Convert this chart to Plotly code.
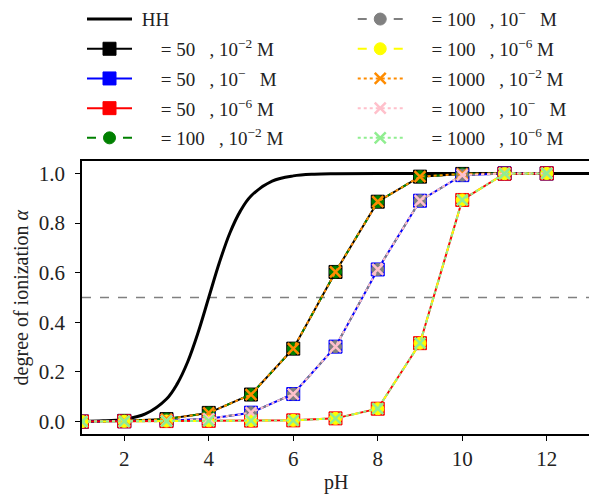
import plotly.graph_objects as go

ph = [1, 2, 3, 4, 5, 6, 7, 8, 9, 10, 11, 12]

# 10^-2 M series
a_n50_m2 = [0.0, 0.003, 0.010, 0.035, 0.109, 0.294, 0.603, 0.886, 0.987, 0.998, 1.0, 1.0]
a_n100_m2 = [0.0, 0.003, 0.010, 0.035, 0.109, 0.294, 0.603, 0.886, 0.987, 0.998, 1.0, 1.0]
a_n1000_m2 = [0.0, 0.003, 0.010, 0.035, 0.109, 0.294, 0.603, 0.886, 0.987, 0.998, 1.0, 1.0]
# 10^- M series
a_n50_m4 = [0.0, 0.001, 0.003, 0.011, 0.036, 0.111, 0.302, 0.613, 0.890, 0.993, 1.0, 1.0]
a_n100_m4 = [0.0, 0.001, 0.003, 0.011, 0.036, 0.111, 0.302, 0.613, 0.890, 0.993, 1.0, 1.0]
a_n1000_m4 = [0.0, 0.001, 0.003, 0.011, 0.036, 0.111, 0.302, 0.613, 0.890, 0.993, 1.0, 1.0]
# 10^-6 M series
a_n50_m6 = [0.0, 0.001, 0.002, 0.003, 0.004, 0.005, 0.013, 0.052, 0.316, 0.893, 0.999, 1.0]
a_n100_m6 = [0.0, 0.001, 0.002, 0.003, 0.004, 0.005, 0.013, 0.052, 0.316, 0.893, 0.999, 1.0]
a_n1000_m6 = [0.0, 0.001, 0.002, 0.003, 0.004, 0.005, 0.013, 0.052, 0.316, 0.893, 0.999, 1.0]

# Henderson-Hasselbalch curve
hh_ph = [1, 1.5, 2, 2.5, 3, 3.25, 3.5, 3.75, 4, 4.25, 4.5, 4.75, 5, 5.5, 6, 6.5, 7, 8, 10, 13]
hh_alpha = [0.001, 0.003, 0.010, 0.031, 0.091, 0.151, 0.240, 0.360, 0.500, 0.640, 0.760,
            0.849, 0.909, 0.969, 0.990, 0.997, 0.999, 1.0, 1.0, 1.0]

half_x = [1, 13]
half_y = [0.5, 0.5]

x_ticks = [2, 4, 6, 8, 10, 12]
y_ticks = [0.0, 0.2, 0.4, 0.6, 0.8, 1.0]

S = "\u00a0"
def lab(n, exp):
    sup = f"<sup>\u2212{exp}</sup>" if exp else "<sup>\u2212</sup>" + S * 2
    return f"{S*5}= {n}{S*3}, 10{sup}{S}M"

series = [
    (a_n50_m2, "black", "solid", "square", 13, lab(50, "2"), "legend"),
    (a_n50_m4, "blue", "solid", "square", 13, lab(50, ""), "legend"),
    (a_n50_m6, "red", "solid", "square", 13, lab(50, "6"), "legend"),
    (a_n100_m2, "green", "dash", "circle", 12, lab(100, "2"), "legend"),
    (a_n100_m4, "grey", "dash", "circle", 12, lab(100, ""), "legend2"),
    (a_n100_m6, "yellow", "dash", "circle", 12, lab(100, "6"), "legend2"),
    (a_n1000_m2, "darkorange", "dot", "x-thin", 11, lab(1000, "2"), "legend2"),
    (a_n1000_m4, "pink", "dot", "x-thin", 11, lab(1000, ""), "legend2"),
    (a_n1000_m6, "lightgreen", "dot", "x-thin", 11, lab(1000, "6"), "legend2"),
]

fig = go.Figure()
fig.add_trace(go.Scatter(x=half_x, y=half_y, mode="lines", showlegend=False,
                         line=dict(color="grey", width=1.5, dash="dash")))
fig.add_trace(go.Scatter(x=hh_ph, y=hh_alpha, mode="lines", name=S + "HH", legend="legend",
                         legendgroup="hh", line=dict(color="black", width=3, shape="spline")))
for i, (ys, col, dash, sym, size, name, lg) in enumerate(series):
    marker = dict(symbol=sym, size=size, color=col)
    if sym == "x-thin":
        marker["line"] = dict(color=col, width=2.5)
    else:
        marker["line"] = dict(color=col, width=1)
    fig.add_trace(go.Scatter(x=ph, y=ys, mode="lines+markers", name=name, legend=lg,
                             legendgroup=f"g{i}",
                             line=dict(color=col, width=2, dash=dash), marker=marker))

font_family = "Liberation Serif, DejaVu Serif, serif"
axis_common = dict(showline=True, linecolor="black", linewidth=1.5, mirror=True,
                   ticks="outside", ticklen=5, tickwidth=1.2, tickcolor="black",
                   showgrid=False, zeroline=False, automargin=False,
                   tickfont=dict(size=21, color="#222"))

fig.update_layout(
    width=589, height=495,
    margin=dict(l=82, r=0, t=161, b=61, autoexpand=False),
    paper_bgcolor="white", plot_bgcolor="white",
    font=dict(family=font_family, size=19, color="#222"),
    xaxis=dict(range=[1, 13], tickvals=x_ticks, **axis_common),
    yaxis=dict(range=[-0.05, 1.05], tickvals=y_ticks, tickformat=".1f",
               ticklabelstandoff=6, **axis_common),
    legend=dict(x=0.0, y=1.589, xanchor="left", yanchor="top", bgcolor="rgba(0,0,0,0)",
                tracegroupgap=2, traceorder="grouped", itemwidth=45, font=dict(size=19)),
    legend2=dict(x=0.534, y=1.589, xanchor="left", yanchor="top", bgcolor="rgba(0,0,0,0)",
                 tracegroupgap=2, traceorder="grouped", itemwidth=45, font=dict(size=19)),
    annotations=[
        dict(text="pH", xref="paper", yref="paper", x=0.5, y=-48 / 273,
             xanchor="center", yanchor="middle", showarrow=False, font=dict(size=20)),
        dict(text="degree of ionization <i>α</i>", xref="paper", yref="paper",
             x=-60 / 506, y=0.5, xanchor="center", yanchor="middle", textangle=-90,
             showarrow=False, font=dict(size=20)),
    ],
)

fig.write_html("out.html", config={"displayModeBar": False},
               post_script="document.body.style.margin='0';")
